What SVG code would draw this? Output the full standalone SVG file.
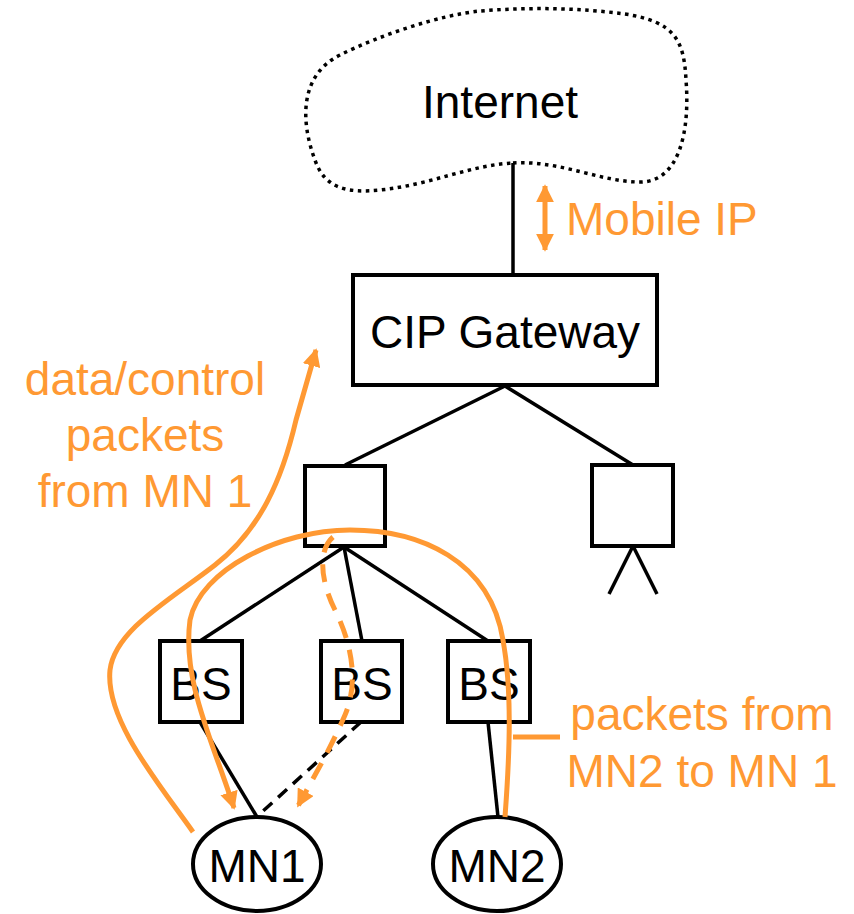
<svg xmlns="http://www.w3.org/2000/svg" width="854" height="914" viewBox="0 0 854 914">
  <defs>
    <style>
      .lbl { font-family: "Liberation Sans", Arial, sans-serif; font-size: 46px; fill: #000; }
      .olbl { font-family: "Liberation Sans", Arial, sans-serif; font-size: 46px; fill: #FF9933; }
      .box { fill: #fff; stroke: #000; stroke-width: 4; }
      .link { stroke: #000; stroke-width: 3.5; fill: none; }
      .flow { stroke: #FF9933; stroke-width: 5; fill: none; }
    </style>
    <marker id="oarrow" viewBox="0 0 10 10" refX="9" refY="5" markerWidth="3.6" markerHeight="3.6" orient="auto" markerUnits="strokeWidth">
      <path d="M0,0 L10,5 L0,10 Z" fill="#FF9933"/>
    </marker>
    <marker id="oarrowStart" viewBox="0 0 10 10" refX="1" refY="5" markerWidth="3.6" markerHeight="3.6" orient="auto" markerUnits="strokeWidth">
      <path d="M10,0 L0,5 L10,10 Z" fill="#FF9933"/>
    </marker>
  </defs>

  <!-- connectors -->
  <g id="connectors">
    <line class="link" x1="513" y1="163" x2="513" y2="275"/>
    <line class="link" x1="505" y1="386" x2="345" y2="465"/>
    <line class="link" x1="505" y1="386" x2="633" y2="465"/>
    <line class="link" x1="344" y1="547" x2="200" y2="641"/>
    <line class="link" x1="344" y1="547" x2="362" y2="641"/>
    <line class="link" x1="344" y1="547" x2="488" y2="641"/>
    <line class="link" x1="633" y1="546" x2="609" y2="594"/>
    <line class="link" x1="633" y1="546" x2="657" y2="594"/>
    <line class="link" x1="200" y1="722" x2="257" y2="817"/>
    <line class="link" x1="361" y1="722" x2="262" y2="812" stroke-dasharray="12,8"/>
    <line class="link" x1="488" y1="722" x2="498" y2="817"/>
  </g>

  <!-- Internet cloud -->
  <g id="internet">
    <path d="M513,163 C560,160 600,182 640,182 C680,182 690,130 686,80 C684,40 675,22 625,14 C580,8 530,7 480,11 C440,15 380,35 340,55 C300,75 300,120 315,160 C325,190 350,193 380,190 C430,185 470,165 513,163 Z" fill="none" stroke="#000" stroke-width="3.5" stroke-dasharray="3.5,4.5"/>
    <text class="lbl" x="500" y="118" text-anchor="middle">Internet</text>
  </g>

  <g id="gateway">
    <rect class="box" x="353" y="275" width="304" height="110"/>
    <text class="lbl" x="505" y="348" text-anchor="middle">CIP Gateway</text>
  </g>

  <g id="switch-left">
    <rect class="box" x="305" y="466" width="80" height="80"/>
  </g>
  <g id="switch-right">
    <rect class="box" x="592" y="465" width="81" height="81"/>
  </g>

  <g id="bs1">
    <rect class="box" x="160" y="641" width="82" height="81"/>
    <text class="lbl" x="201" y="700" text-anchor="middle">BS</text>
  </g>
  <g id="bs2">
    <rect class="box" x="321" y="641" width="81" height="81"/>
    <text class="lbl" x="362" y="700" text-anchor="middle">BS</text>
  </g>
  <g id="bs3">
    <rect class="box" x="448" y="641" width="82" height="81"/>
    <text class="lbl" x="489" y="700" text-anchor="middle">BS</text>
  </g>

  <g id="mn1">
    <ellipse cx="257" cy="864" rx="64" ry="47" fill="#fff" stroke="#000" stroke-width="4"/>
    <text class="lbl" x="257" y="882" text-anchor="middle">MN1</text>
  </g>
  <g id="mn2">
    <ellipse cx="497" cy="864" rx="64" ry="47" fill="#fff" stroke="#000" stroke-width="4"/>
    <text class="lbl" x="497" y="882" text-anchor="middle">MN2</text>
  </g>

  <!-- packet flows -->
  <g id="flows">
    <line class="flow" x1="545" y1="186" x2="545" y2="250" stroke-width="4" marker-start="url(#oarrowStart)" marker-end="url(#oarrow)"/>
    <path class="flow" d="M193,832 C160,785 105,720 110,670 C115,630 170,600 215,565 C260,530 282,480 296,420 L316,350" marker-end="url(#oarrow)"/>
    <path class="flow" d="M505,817 C510,750 512,690 503,640 C490,560 420,530 350,530 C280,530 200,570 190,620 C182,680 212,740 234,808" marker-end="url(#oarrow)"/>
    <path class="flow" d="M333,537 C318,550 320,580 335,610 C350,640 360,680 345,715 C330,750 312,780 298,806" stroke-dasharray="18,12" marker-end="url(#oarrow)"/>
    <line class="flow" x1="513" y1="737" x2="560" y2="737" stroke-width="4"/>
  </g>

  <g id="labels">
    <text class="olbl" x="566" y="235">Mobile IP</text>
    <text class="olbl" x="145" y="395" text-anchor="middle">data/control</text>
    <text class="olbl" x="145" y="451" text-anchor="middle">packets</text>
    <text class="olbl" x="145" y="507" text-anchor="middle">from MN 1</text>
    <text class="olbl" x="702" y="730" text-anchor="middle">packets from</text>
    <text class="olbl" x="702" y="787" text-anchor="middle">MN2 to MN 1</text>
  </g>
</svg>
